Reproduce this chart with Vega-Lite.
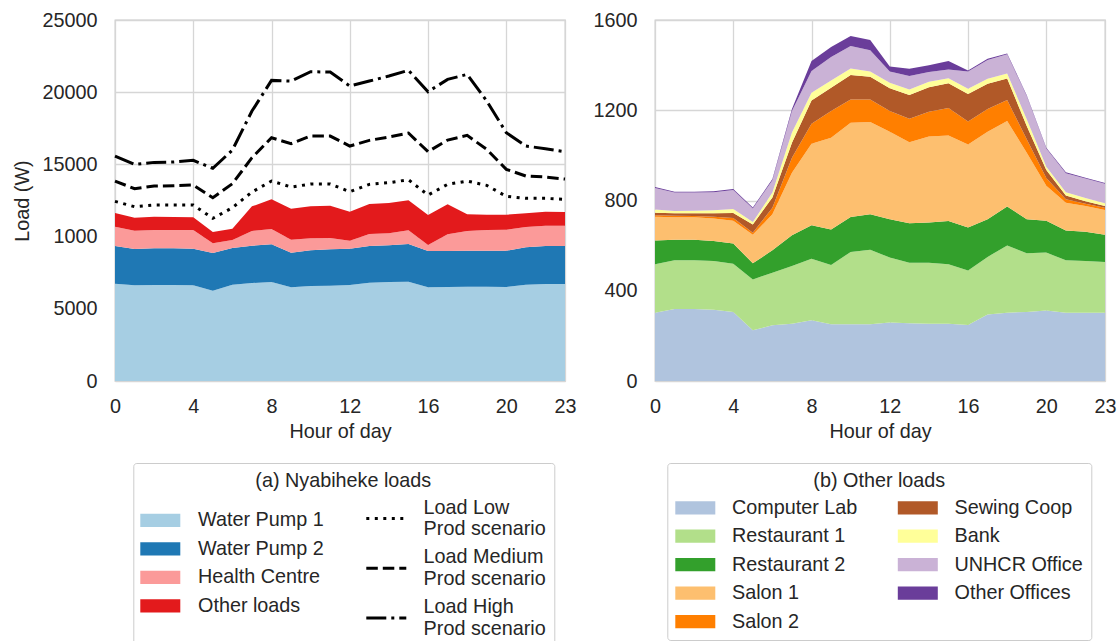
{
  "$schema": "https://vega.github.io/schema/vega-lite/v6.json",
  "padding": {"left": 12, "top": 9, "right": 0, "bottom": 0},
  "spacing": 15,
  "config": {
    "font": "Liberation Sans",
    "view": {"stroke": "#cccccc", "strokeWidth": 1.3},
    "axis": {
      "labelFontSize": 19.8, "titleFontSize": 19.8, "labelColor": "#262626", "titleColor": "#262626",
      "titleFontWeight": "normal", "ticks": false, "tickSize": 0, "domain": false,
      "gridColor": "#d6d6d6", "gridWidth": 1.3
    },
    "axisX": {"labelPadding": 15, "titlePadding": 6},
    "axisY": {"labelPadding": 18, "titlePadding": 9},
    "legend": {
      "labelFontSize": 19.8, "titleFontSize": 19.8, "labelColor": "#262626", "titleColor": "#262626",
      "titleFontWeight": "normal", "labelLimit": 400, "titleLimit": 500
    }
  },
  "datasets": {
    "ranksA": [
      {"load": "Water Pump 1", "rank": 1}, {"load": "Water Pump 2", "rank": 2},
      {"load": "Health Centre", "rank": 3}, {"load": "Other loads", "rank": 4}
    ],
    "ranksB": [
      {"load": "Computer Lab", "rank": 1}, {"load": "Restaurant 1", "rank": 2}, {"load": "Restaurant 2", "rank": 3},
      {"load": "Salon 1", "rank": 4}, {"load": "Salon 2", "rank": 5}, {"load": "Sewing Coop", "rank": 6},
      {"load": "Bank", "rank": 7}, {"load": "UNHCR Office", "rank": 8}, {"load": "Other Offices", "rank": 9}
    ],
    "nyabiheke": [
      {"hour": 0, "Water Pump 1": 6739, "Water Pump 2": 2608, "Health Centre": 1339, "Other loads": 946, "Load Low Prod scenario": 12440, "Load Medium Prod scenario": 13848, "Load High Prod scenario": 15579},
      {"hour": 1, "Water Pump 1": 6624, "Water Pump 2": 2516, "Health Centre": 1269, "Other loads": 900, "Load Low Prod scenario": 12071, "Load Medium Prod scenario": 13317, "Load High Prod scenario": 15002},
      {"hour": 2, "Water Pump 1": 6647, "Water Pump 2": 2539, "Health Centre": 1269, "Other loads": 923, "Load Low Prod scenario": 12186, "Load Medium Prod scenario": 13502, "Load High Prod scenario": 15140},
      {"hour": 3, "Water Pump 1": 6647, "Water Pump 2": 2539, "Health Centre": 1269, "Other loads": 900, "Load Low Prod scenario": 12186, "Load Medium Prod scenario": 13525, "Load High Prod scenario": 15164},
      {"hour": 4, "Water Pump 1": 6624, "Water Pump 2": 2539, "Health Centre": 1292, "Other loads": 877, "Load Low Prod scenario": 12186, "Load Medium Prod scenario": 13571, "Load High Prod scenario": 15279},
      {"hour": 5, "Water Pump 1": 6255, "Water Pump 2": 2608, "Health Centre": 669, "Other loads": 785, "Load Low Prod scenario": 11263, "Load Medium Prod scenario": 12694, "Load High Prod scenario": 14725},
      {"hour": 6, "Water Pump 1": 6670, "Water Pump 2": 2539, "Health Centre": 554, "Other loads": 785, "Load Low Prod scenario": 12002, "Load Medium Prod scenario": 13663, "Load High Prod scenario": 15994},
      {"hour": 7, "Water Pump 1": 6786, "Water Pump 2": 2584, "Health Centre": 1016, "Other loads": 1708, "Load Low Prod scenario": 13086, "Load Medium Prod scenario": 15464, "Load High Prod scenario": 18695},
      {"hour": 8, "Water Pump 1": 6855, "Water Pump 2": 2608, "Health Centre": 1061, "Other loads": 2055, "Load Low Prod scenario": 13848, "Load Medium Prod scenario": 16848, "Load High Prod scenario": 20818},
      {"hour": 9, "Water Pump 1": 6485, "Water Pump 2": 2401, "Health Centre": 900, "Other loads": 2146, "Load Low Prod scenario": 13432, "Load Medium Prod scenario": 16433, "Load High Prod scenario": 20772},
      {"hour": 10, "Water Pump 1": 6578, "Water Pump 2": 2469, "Health Centre": 831, "Other loads": 2216, "Load Low Prod scenario": 13640, "Load Medium Prod scenario": 16964, "Load High Prod scenario": 21418},
      {"hour": 11, "Water Pump 1": 6601, "Water Pump 2": 2516, "Health Centre": 784, "Other loads": 2239, "Load Low Prod scenario": 13640, "Load Medium Prod scenario": 16964, "Load High Prod scenario": 21395},
      {"hour": 12, "Water Pump 1": 6647, "Water Pump 2": 2516, "Health Centre": 554, "Other loads": 2008, "Load Low Prod scenario": 13109, "Load Medium Prod scenario": 16271, "Load High Prod scenario": 20426},
      {"hour": 13, "Water Pump 1": 6809, "Water Pump 2": 2538, "Health Centre": 831, "Other loads": 2077, "Load Low Prod scenario": 13617, "Load Medium Prod scenario": 16664, "Load High Prod scenario": 20772},
      {"hour": 14, "Water Pump 1": 6855, "Water Pump 2": 2539, "Health Centre": 830, "Other loads": 2101, "Load Low Prod scenario": 13733, "Load Medium Prod scenario": 16895, "Load High Prod scenario": 21118},
      {"hour": 15, "Water Pump 1": 6878, "Water Pump 2": 2608, "Health Centre": 946, "Other loads": 2077, "Load Low Prod scenario": 13940, "Load Medium Prod scenario": 17172, "Load High Prod scenario": 21511},
      {"hour": 16, "Water Pump 1": 6485, "Water Pump 2": 2516, "Health Centre": 416, "Other loads": 2077, "Load Low Prod scenario": 12879, "Load Medium Prod scenario": 15879, "Load High Prod scenario": 20033},
      {"hour": 17, "Water Pump 1": 6509, "Water Pump 2": 2492, "Health Centre": 1154, "Other loads": 2077, "Load Low Prod scenario": 13617, "Load Medium Prod scenario": 16687, "Load High Prod scenario": 20887},
      {"hour": 18, "Water Pump 1": 6532, "Water Pump 2": 2492, "Health Centre": 1362, "Other loads": 1154, "Load Low Prod scenario": 13848, "Load Medium Prod scenario": 17010, "Load High Prod scenario": 21234},
      {"hour": 19, "Water Pump 1": 6532, "Water Pump 2": 2492, "Health Centre": 1431, "Other loads": 1062, "Load Low Prod scenario": 13548, "Load Medium Prod scenario": 16041, "Load High Prod scenario": 19387},
      {"hour": 20, "Water Pump 1": 6509, "Water Pump 2": 2515, "Health Centre": 1454, "Other loads": 1039, "Load Low Prod scenario": 12786, "Load Medium Prod scenario": 14656, "Load High Prod scenario": 17195},
      {"hour": 21, "Water Pump 1": 6670, "Water Pump 2": 2585, "Health Centre": 1408, "Other loads": 946, "Load Low Prod scenario": 12648, "Load Medium Prod scenario": 14194, "Load High Prod scenario": 16271},
      {"hour": 22, "Water Pump 1": 6716, "Water Pump 2": 2631, "Health Centre": 1408, "Other loads": 970, "Load Low Prod scenario": 12648, "Load Medium Prod scenario": 14125, "Load High Prod scenario": 16087},
      {"hour": 23, "Water Pump 1": 6716, "Water Pump 2": 2631, "Health Centre": 1408, "Other loads": 947, "Load Low Prod scenario": 12579, "Load Medium Prod scenario": 13986, "Load High Prod scenario": 15879}
    ],
    "other": [
      {"hour": 0, "Computer Lab": 303, "Restaurant 1": 214, "Restaurant 2": 106, "Salon 1": 105, "Salon 2": 7, "Sewing Coop": 11, "Bank": 14, "UNHCR Office": 95, "Other Offices": 5},
      {"hour": 1, "Computer Lab": 319, "Restaurant 1": 216, "Restaurant 2": 91, "Salon 1": 100, "Salon 2": 6, "Sewing Coop": 11, "Bank": 11, "UNHCR Office": 81, "Other Offices": 4},
      {"hour": 2, "Computer Lab": 319, "Restaurant 1": 216, "Restaurant 2": 91, "Salon 1": 100, "Salon 2": 5, "Sewing Coop": 12, "Bank": 12, "UNHCR Office": 80, "Other Offices": 4},
      {"hour": 3, "Computer Lab": 316, "Restaurant 1": 216, "Restaurant 2": 88, "Salon 1": 100, "Salon 2": 8, "Sewing Coop": 15, "Bank": 14, "UNHCR Office": 80, "Other Offices": 4},
      {"hour": 4, "Computer Lab": 306, "Restaurant 1": 214, "Restaurant 2": 89, "Salon 1": 101, "Salon 2": 12, "Sewing Coop": 23, "Bank": 17, "UNHCR Office": 85, "Other Offices": 4},
      {"hour": 5, "Computer Lab": 225, "Restaurant 1": 225, "Restaurant 2": 72, "Salon 1": 126, "Salon 2": 9, "Sewing Coop": 37, "Bank": 11, "UNHCR Office": 60, "Other Offices": 4},
      {"hour": 6, "Computer Lab": 247, "Restaurant 1": 233, "Restaurant 2": 99, "Salon 1": 160, "Salon 2": 29, "Sewing Coop": 45, "Bank": 22, "UNHCR Office": 55, "Other Offices": 5},
      {"hour": 7, "Computer Lab": 254, "Restaurant 1": 256, "Restaurant 2": 136, "Salon 1": 277, "Salon 2": 67, "Sewing Coop": 66, "Bank": 45, "UNHCR Office": 96, "Other Offices": 8},
      {"hour": 8, "Computer Lab": 269, "Restaurant 1": 273, "Restaurant 2": 148, "Salon 1": 362, "Salon 2": 88, "Sewing Coop": 103, "Bank": 35, "UNHCR Office": 96, "Other Offices": 44},
      {"hour": 9, "Computer Lab": 251, "Restaurant 1": 263, "Restaurant 2": 157, "Salon 1": 407, "Salon 2": 119, "Sewing Coop": 103, "Bank": 32, "UNHCR Office": 104, "Other Offices": 44},
      {"hour": 10, "Computer Lab": 251, "Restaurant 1": 321, "Restaurant 2": 155, "Salon 1": 418, "Salon 2": 103, "Sewing Coop": 108, "Bank": 29, "UNHCR Office": 100, "Other Offices": 44},
      {"hour": 11, "Computer Lab": 251, "Restaurant 1": 331, "Restaurant 2": 157, "Salon 1": 409, "Salon 2": 100, "Sewing Coop": 100, "Bank": 24, "UNHCR Office": 94, "Other Offices": 45},
      {"hour": 12, "Computer Lab": 259, "Restaurant 1": 288, "Restaurant 2": 170, "Salon 1": 388, "Salon 2": 92, "Sewing Coop": 101, "Bank": 24, "UNHCR Office": 50, "Other Offices": 22},
      {"hour": 13, "Computer Lab": 256, "Restaurant 1": 268, "Restaurant 2": 175, "Salon 1": 359, "Salon 2": 104, "Sewing Coop": 106, "Bank": 24, "UNHCR Office": 60, "Other Offices": 32},
      {"hour": 14, "Computer Lab": 254, "Restaurant 1": 270, "Restaurant 2": 178, "Salon 1": 382, "Salon 2": 109, "Sewing Coop": 109, "Bank": 24, "UNHCR Office": 44, "Other Offices": 30},
      {"hour": 15, "Computer Lab": 254, "Restaurant 1": 263, "Restaurant 2": 192, "Salon 1": 379, "Salon 2": 122, "Sewing Coop": 110, "Bank": 22, "UNHCR Office": 39, "Other Offices": 37},
      {"hour": 16, "Computer Lab": 248, "Restaurant 1": 242, "Restaurant 2": 190, "Salon 1": 368, "Salon 2": 102, "Sewing Coop": 122, "Bank": 23, "UNHCR Office": 77, "Other Offices": 4},
      {"hour": 17, "Computer Lab": 295, "Restaurant 1": 255, "Restaurant 2": 167, "Salon 1": 388, "Salon 2": 101, "Sewing Coop": 112, "Bank": 22, "UNHCR Office": 83, "Other Offices": 5},
      {"hour": 18, "Computer Lab": 303, "Restaurant 1": 298, "Restaurant 2": 172, "Salon 1": 379, "Salon 2": 93, "Sewing Coop": 96, "Bank": 22, "UNHCR Office": 85, "Other Offices": 4},
      {"hour": 19, "Computer Lab": 306, "Restaurant 1": 260, "Restaurant 2": 151, "Salon 1": 295, "Salon 2": 59, "Sewing Coop": 59, "Bank": 30, "UNHCR Office": 103, "Other Offices": 4},
      {"hour": 20, "Computer Lab": 313, "Restaurant 1": 256, "Restaurant 2": 141, "Salon 1": 155, "Salon 2": 35, "Sewing Coop": 35, "Bank": 15, "UNHCR Office": 80, "Other Offices": 4},
      {"hour": 21, "Computer Lab": 303, "Restaurant 1": 232, "Restaurant 2": 132, "Salon 1": 123, "Salon 2": 16, "Sewing Coop": 16, "Bank": 15, "UNHCR Office": 84, "Other Offices": 4},
      {"hour": 22, "Computer Lab": 303, "Restaurant 1": 229, "Restaurant 2": 129, "Salon 1": 115, "Salon 2": 10, "Sewing Coop": 11, "Bank": 14, "UNHCR Office": 86, "Other Offices": 4},
      {"hour": 23, "Computer Lab": 303, "Restaurant 1": 224, "Restaurant 2": 121, "Salon 1": 110, "Salon 2": 10, "Sewing Coop": 8, "Bank": 12, "UNHCR Office": 86, "Other Offices": 4}
    ]
  },
  "resolve": {
    "scale": {"x": "independent", "y": "independent", "fill": "independent", "strokeDash": "independent"},
    "legend": {"fill": "independent", "strokeDash": "independent"}
  },
  "hconcat": [
    {
      "width": 450,
      "height": 361,
      "data": {"name": "nyabiheke"},
      "encoding": {
        "x": {"field": "hour", "type": "quantitative", "scale": {"domain": [0, 23], "nice": false, "zero": false},
              "axis": {"values": [0, 4, 8, 12, 16, 20, 23], "title": "Hour of day", "format": "d", "labelFlush": false}},
        "y": {"field": "W", "type": "quantitative", "scale": {"domain": [0, 25000], "nice": false},
              "axis": {"values": [0, 5000, 10000, 15000, 20000, 25000], "title": "Load (W)", "format": "d",
                       "labelExpr": "datum.value == 10000 ? '1000' : datum.label"}}
      },
      "layer": [
        {
          "transform": [
            {"fold": ["Water Pump 1", "Water Pump 2", "Health Centre", "Other loads"], "as": ["load", "W"]},
            {"lookup": "load", "from": {"data": {"name": "ranksA"}, "key": "load", "fields": ["rank"]}}
          ],
          "mark": {"type": "area", "opacity": 1},
          "encoding": {
            "order": {"field": "rank", "type": "quantitative", "sort": "ascending"},
            "fill": {
              "field": "load", "type": "nominal",
              "sort": ["Water Pump 1", "Water Pump 2", "Health Centre", "Other loads"],
              "scale": {"domain": ["Water Pump 1", "Water Pump 2", "Health Centre", "Other loads"],
                        "range": ["#a6cee3", "#1f78b4", "#fb9a99", "#e31a1c"]},
              "legend": {
                "orient": "none", "legendX": 25.3, "legendY": 490.3, "title": null, "padding": 0,
                "values": ["Water Pump 1", "Water Pump 2", "Health Centre", "Other loads"],
                "symbolType": "M-2,-0.66H2V0.66H-2Z", "symbolSize": 400, "symbolStrokeWidth": 0, "symbolOpacity": 1,
                "symbolOffset": 10, "labelOffset": 27.7, "rowPadding": 8.5
              }
            }
          }
        },
        {
          "transform": [{"fold": ["Load Low Prod scenario", "Load Medium Prod scenario", "Load High Prod scenario"], "as": ["scenario", "W"]}],
          "mark": {"type": "line", "color": "black", "strokeWidth": 3},
          "encoding": {
            "strokeDash": {
              "field": "scenario", "type": "nominal",
              "sort": ["Load Low Prod scenario", "Load Medium Prod scenario", "Load High Prod scenario"],
              "scale": {"domain": ["Load Low Prod scenario", "Load Medium Prod scenario", "Load High Prod scenario"],
                        "range": [[3, 5.5], [11.5, 5], [20, 5, 3, 5]]},
              "legend": {
                "orient": "none", "legendX": 18.3, "legendY": 443,
                "title": "(a) Nyabiheke loads", "titleAnchor": "middle", "titleAlign": "center", "titlePadding": 6.9,
                "padding": 8, "strokeColor": "#cccccc", "cornerRadius": 3,
                "symbolType": "M-2.5,1.36H2.5", "symbolSize": 256, "symbolStrokeWidth": 3, "symbolStrokeColor": "black",
                "symbolFillColor": "transparent",
                "symbolOffset": 235.1, "labelOffset": 27.4, "rowPadding": 6.7,
                "labelExpr": "[replace(datum.label, ' Prod scenario', ''), 'Prod scenario']"
              }
            }
          }
        }
      ]
    },
    {
      "width": 450,
      "height": 361,
      "data": {"name": "other"},
      "transform": [
        {"fold": ["Computer Lab", "Restaurant 1", "Restaurant 2", "Salon 1", "Salon 2", "Sewing Coop", "Bank", "UNHCR Office", "Other Offices"], "as": ["load", "W"]},
        {"lookup": "load", "from": {"data": {"name": "ranksB"}, "key": "load", "fields": ["rank"]}}
      ],
      "mark": {"type": "area", "opacity": 1},
      "encoding": {
        "x": {"field": "hour", "type": "quantitative", "scale": {"domain": [0, 23], "nice": false, "zero": false},
              "axis": {"values": [0, 4, 8, 12, 16, 20, 23], "title": "Hour of day", "format": "d", "labelFlush": false}},
        "y": {"field": "W", "type": "quantitative", "stack": "zero", "scale": {"domain": [0, 1600], "nice": false},
              "axis": {"values": [0, 400, 800, 1200, 1600], "title": null, "format": "d"}},
        "order": {"field": "rank", "type": "quantitative", "sort": "ascending"},
        "fill": {
          "field": "load", "type": "nominal",
          "sort": ["Computer Lab", "Restaurant 1", "Restaurant 2", "Salon 1", "Salon 2", "Sewing Coop", "Bank", "UNHCR Office", "Other Offices"],
          "scale": {"domain": ["Computer Lab", "Restaurant 1", "Restaurant 2", "Salon 1", "Salon 2", "Sewing Coop", "Bank", "UNHCR Office", "Other Offices"],
                    "range": ["#b0c4de", "#b2df8a", "#33a02c", "#fdbf6f", "#ff7f00", "#b15928", "#ffff99", "#cab2d6", "#6a3d9a"]},
          "legend": {
            "orient": "none", "legendX": 12.3, "legendY": 443,
            "title": "(b) Other loads", "titleAnchor": "middle", "titleAlign": "center", "titlePadding": 6.9,
            "padding": 8, "strokeColor": "#cccccc", "cornerRadius": 3,
            "columns": 2, "columnPadding": 39.5, "rowPadding": 8.5,
            "values": ["Computer Lab", "Restaurant 1", "Restaurant 2", "Salon 1", "Salon 2", "Sewing Coop", "Bank", "UNHCR Office", "Other Offices"],
            "symbolType": "M-2,-0.66H2V0.66H-2Z", "symbolSize": 400, "symbolStrokeWidth": 0, "symbolOpacity": 1,
            "symbolOffset": 10, "labelOffset": 26.7
          }
        }
      }
    }
  ]
}
